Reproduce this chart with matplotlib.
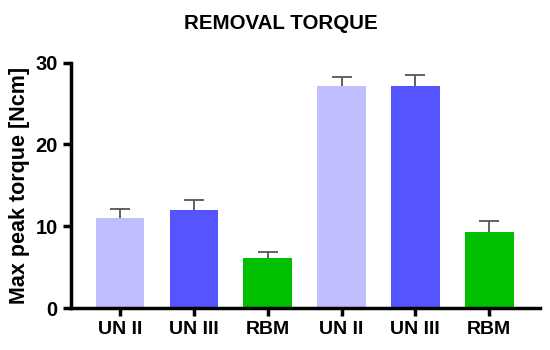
import matplotlib
matplotlib.use("Agg")
import matplotlib.pyplot as plt
import numpy as np

plt.rcParams["font.family"] = ["Liberation Sans", "DejaVu Sans"]
plt.rcParams["font.weight"] = "bold"

# data
groups = ["UN II", "UN III", "RBM", "UN II", "UN III", "RBM"]
means = [11.0, 11.95, 6.1, 27.15, 27.15, 9.3]
sd_up = [1.05, 1.25, 0.75, 1.15, 1.3, 1.35]
colors = ["#BFBFFF", "#5555FF", "#00C000", "#BFBFFF", "#5555FF", "#00C000"]
yticks = [0, 10, 20, 30]

fig = plt.figure(figsize=(5.5, 3.5), dpi=100)
ax = fig.add_axes([0.129, 0.12, 0.853, 0.701])

xs = np.arange(len(groups))
ax.bar(xs, means, width=0.66, color=colors, zorder=2)
eb = ax.errorbar(xs, means, yerr=[np.zeros(len(sd_up)), sd_up], fmt="none",
                 ecolor="#555555", elinewidth=1.3, capsize=7.5, capthick=1.3,
                 zorder=1)
eb[1][0].set_visible(False)  # only upper cap

ax.set_ylim(0, 30)
ax.set_xlim(-0.666, 5.69)
ax.set_yticks(yticks)
ax.set_xticks(xs)
ax.set_xticklabels(groups, fontsize=14, fontweight="bold")
ax.tick_params(axis="y", labelsize=14.5, width=2.5, length=6)
ax.tick_params(axis="x", width=2.5, length=6)
for lbl in ax.get_yticklabels():
    lbl.set_fontweight("bold")
for side in ["top", "right"]:
    ax.spines[side].set_visible(False)
for side in ["left", "bottom"]:
    ax.spines[side].set_linewidth(2.5)

ax.set_ylabel("Max peak torque [Ncm]", fontsize=15.5, fontweight="bold",
              labelpad=4)
fig.text(0.511, 0.933, "REMOVAL TORQUE", ha="center", va="center",
         fontsize=14.8, fontweight="bold")

fig.savefig("out.png", dpi=100)
